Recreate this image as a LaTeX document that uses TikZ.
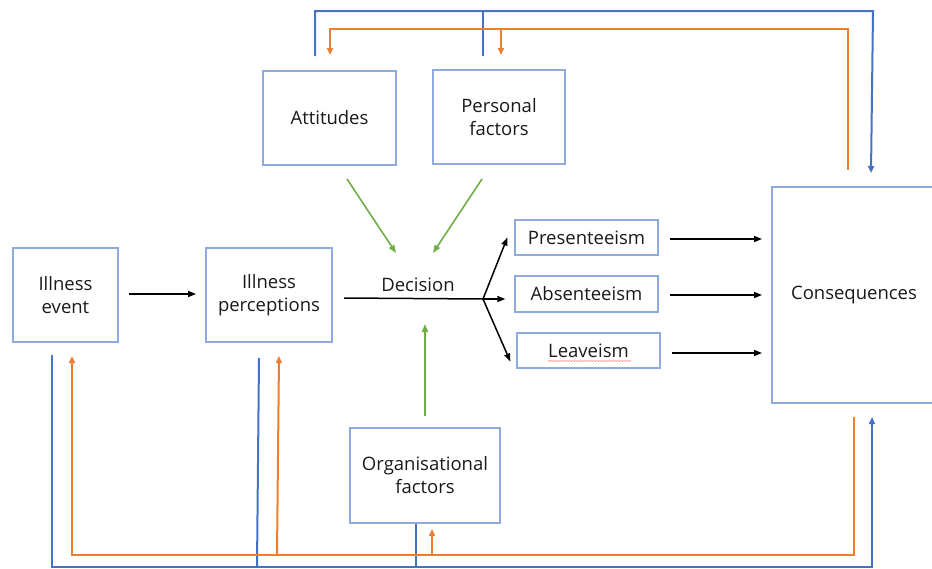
\documentclass[tikz,border=0pt]{standalone}
\usepackage{fontspec}
\setmainfont{Open Sans}
\usetikzlibrary{arrows.meta,decorations.pathmorphing}
\definecolor{boxline}{RGB}{143,170,220}
\definecolor{fbblue}{RGB}{68,114,196}
\definecolor{fborange}{RGB}{237,125,49}
\definecolor{infgreen}{RGB}{112,173,71}
\definecolor{txt}{RGB}{25,25,25}
\tikzset{
  box/.style={draw=boxline, line width=1.3pt, rectangle, align=center,
    text=txt, font=\fontsize{18.5}{23}\selectfont, inner sep=0pt},
  flow/.style={draw=black, line width=1.5pt, -{Triangle[length=8pt,width=6pt]}},
  infl/.style={draw=infgreen, line width=1.6pt, -{Triangle[length=8pt,width=6pt]}},
  fbb/.style={draw=fbblue, line width=2pt},
  fbo/.style={draw=fborange, line width=2pt},
  tipo/.style={-{Triangle[length=7pt,width=6pt]}},
}
\begin{document}
\begin{tikzpicture}[x=1pt,y=-1pt]
\useasboundingbox (0,0) rectangle (932,568);

% boxes
\node[box, minimum width=105pt, minimum height=94pt] (ie) at (65.5,295) {Illness\\event};
\node[box, minimum width=126pt, minimum height=94pt] (ip) at (269,295) {Illness\\perceptions};
\node[box, minimum width=133pt, minimum height=94pt] (att) at (329.5,118) {Attitudes};
\node[box, minimum width=132pt, minimum height=94pt] (pf) at (499,117) {Personal\\factors};
\node[box, minimum width=150pt, minimum height=95pt] (org) at (425,475.5) {Organisational\\factors};
\node[box, minimum width=143pt, minimum height=35pt] (pres) at (586.5,237.5) {Presenteeism};
\node[box, minimum width=143pt, minimum height=36pt] (abs) at (586.5,294) {Absenteeism};
\node[box, minimum width=143pt, minimum height=35pt] (leave) at (588.5,350.5) {Leaveism};
\node[box, minimum width=162pt, minimum height=216pt] (cons) at (853,295) {};
\node[text=txt, font=\fontsize{18.5}{23}\selectfont] (constext) at (854,295) {Consequences};

% spell-check underline under Leaveism
\draw[red!45, line width=0.6pt, decorate,
  decoration={snake, amplitude=0.6pt, segment length=3pt}]
  ([xshift=-40.5pt,yshift=-10.5pt]leave.center) -- ([xshift=42.5pt,yshift=-10.5pt]leave.center);

% decision point
\coordinate (decin) at (344,298);
\coordinate (fork) at (483,299);
\node[text=txt, font=\fontsize{18.5}{23}\selectfont] (dec) at (418,285) {Decision};

% main flow
\coordinate (a1) at (129,294);
\coordinate (a2) at (196,294);
\draw[flow] (a1) -- (a2);
\draw[draw=black, line width=1.5pt] (decin) -- (fork);
\draw[flow] (fork) -- ([xshift=-7pt]pres.west);
\draw[flow] (fork) -- ([xshift=-9pt,yshift=-5pt]abs.west);
\draw[flow] (fork) -- ([xshift=-6pt,yshift=-11pt]leave.west);

\coordinate (p1) at (670,239);  \coordinate (p2) at (762,239);
\coordinate (q1) at (670,295);  \coordinate (q2) at (762,295);
\coordinate (r1) at (672,353);  \coordinate (r2) at (762,353);
\draw[flow] (p1) -- (p2);
\draw[flow] (q1) -- (q2);
\draw[flow] (r1) -- (r2);

% influences on the decision
\coordinate (g1) at (347,179); \coordinate (g1e) at (396,253);
\coordinate (g2) at (482,179); \coordinate (g2e) at (433,253);
\coordinate (g3) at (425,416); \coordinate (g3e) at (425,324);
\draw[infl] (g1) -- (g1e);
\draw[infl] (g2) -- (g2e);
\draw[infl] (g3) -- (g3e);

% feedback over the top
\coordinate (bA) at (315,56);
\coordinate (bP) at (483,56);
\coordinate (bC) at (871,173);
\draw[fbb, tipo] (bA) |- (873,11) -- (bC);
\draw[fbb] (bP) -- (483,11);

\coordinate (oC) at (848,170);
\coordinate (oA) at (330,55);
\coordinate (oP) at (501,55);
\draw[fbo, tipo] (oC) |- (330,29) -- (oA);
\draw[fbo, tipo] (501,29) -- (oP);

% feedback along the bottom
\coordinate (bE) at (52,355);
\coordinate (bI) at (259,358);
\coordinate (bC2) at (872,417);
\draw[fbb, tipo] (bE) |- (872,567) -- (bC2);
\draw[fbb] (bI) -- (257,567);
\draw[fbb] ([xshift=-9pt]org.south) -- (416,567);

\coordinate (oC2) at (854,417);
\coordinate (oE) at (72,356);
\coordinate (oI) at (279,356);
\coordinate (oO) at (432,529);
\draw[fbo, tipo] (oC2) |- (72,555) -- (oE);
\draw[fbo, tipo] (277,555) -- (oI);
\draw[fbo, tipo] (432,555) -- (oO);
\end{tikzpicture}
\end{document}
